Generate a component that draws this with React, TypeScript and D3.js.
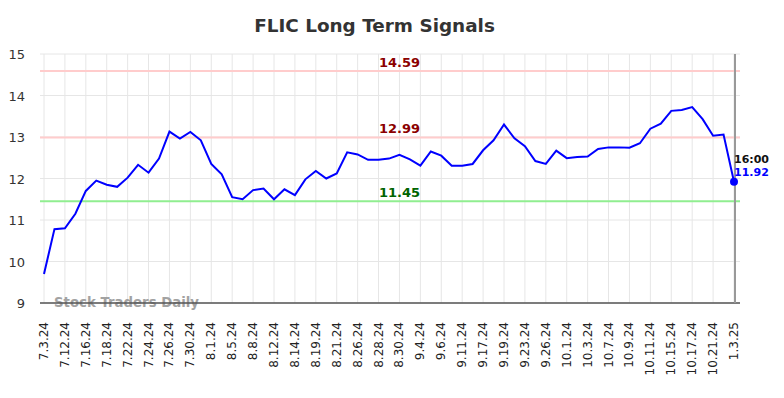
import React from 'react';
import * as d3 from 'd3';

// x-axis tick labels (every second data point)
const tickLabels = [
    '7.3.24', '7.12.24', '7.16.24', '7.18.24', '7.22.24', '7.24.24', '7.26.24', '7.30.24',
    '8.1.24', '8.5.24', '8.8.24', '8.12.24', '8.14.24', '8.19.24', '8.21.24', '8.26.24',
    '8.28.24', '8.30.24', '9.4.24', '9.6.24', '9.11.24', '9.17.24', '9.19.24', '9.23.24',
    '9.26.24', '10.1.24', '10.3.24', '10.7.24', '10.9.24', '10.11.24', '10.15.24', '10.17.24',
    '10.21.24', '1.3.25'
];

// closing prices, one per half tick step
const prices = [
    9.7, 10.78, 10.8, 11.15, 11.7, 11.95, 11.85, 11.8, 12.02, 12.33,
    12.14, 12.48, 13.13, 12.96, 13.12, 12.92, 12.35, 12.1, 11.55, 11.5,
    11.72, 11.76, 11.5, 11.74, 11.6, 11.98, 12.18, 12.0, 12.12, 12.63,
    12.58, 12.45, 12.45, 12.48, 12.57, 12.46, 12.31, 12.65, 12.55, 12.31,
    12.31, 12.35, 12.68, 12.92, 13.3, 12.97, 12.78, 12.42, 12.35, 12.67,
    12.49, 12.52, 12.53, 12.71, 12.75, 12.75, 12.74, 12.85, 13.2, 13.32,
    13.63, 13.65, 13.72, 13.43, 13.03, 13.06, 11.92
];

const yTicks = [9, 10, 11, 12, 13, 14, 15];

const signals = [
    { value: 14.59, line: '#ffcccc', text: '#8b0000' },
    { value: 12.99, line: '#ffcccc', text: '#8b0000' },
    { value: 11.45, line: '#90ee90', text: '#006400' }
];

const lastTime = '16:00';

const W = 784, H = 398;
const left = 40, right = 740, top = 54, bottom = 303;
const font = 'DejaVu Sans, sans-serif';

export default function App() {
    const x = d3.scaleLinear().domain([0, prices.length - 1]).range([44, 734]);
    const y = d3.scaleLinear().domain([9, 15]).range([bottom, top]);
    const line = d3.line<number>().x((d, i) => x(i)).y(d => y(d));
    const lastI = prices.length - 1;
    const last = prices[lastI];

    return (
        <svg width={W} height={H} style={{ position: 'absolute', left: 0, top: 0, fontFamily: font }}>
            <rect width={W} height={H} fill="#fff" />
            <text x={374.5} y={32} textAnchor="middle" fontSize={18.4} fontWeight="bold" fill="#333">
                FLIC Long Term Signals
            </text>

            {/* grid */}
            {yTicks.map(t => (
                <line key={t} x1={left} x2={right} y1={y(t)} y2={y(t)} stroke="#e6e6e6" strokeWidth={1} />
            ))}
            {tickLabels.map((t, i) => (
                <line key={t} x1={x(i * 2)} x2={x(i * 2)} y1={top} y2={bottom} stroke="#e6e6e6" strokeWidth={1} />
            ))}

            {/* y labels */}
            {yTicks.map(t => (
                <text key={t} x={25} y={y(t) + 5} textAnchor="end" fontSize={13} fill="#333">{t}</text>
            ))}

            {/* signal lines */}
            {signals.map(s => (
                <g key={s.value}>
                    <line x1={left} x2={right} y1={y(s.value)} y2={y(s.value)} stroke={s.line} strokeWidth={2} />
                    <text x={399.5} y={y(s.value) - 4} textAnchor="middle" fontSize={13} fontWeight="bold" fill={s.text}>
                        {s.value.toFixed(2)}
                    </text>
                </g>
            ))}

            {/* watermark */}
            <text x={54} y={307} fontSize={13.3} fontWeight="bold" fill="#999" opacity={0.9}>Stock Traders Daily</text>

            {/* axis */}
            <line x1={left} x2={right} y1={bottom} y2={bottom} stroke="#555" strokeWidth={1.5} />
            <line x1={x(lastI) + 1} x2={x(lastI) + 1} y1={top} y2={bottom} stroke="#999" strokeWidth={2} />

            {/* x labels */}
            {tickLabels.map((t, i) => (
                <text key={t} transform={`translate(${x(i * 2) + 4},322) rotate(-90)`} textAnchor="end"
                      fontSize={12} fill="#222">{t}</text>
            ))}

            <path d={line(prices) || ''} fill="none" stroke="#0000ff" strokeWidth={2} />
            <circle cx={x(lastI)} cy={y(last)} r={4} fill="#0000ff" />
            <text x={x(lastI)} y={y(last) - 19} fontSize={11} fontWeight="bold" fill="#111">{lastTime}</text>
            <text x={x(lastI)} y={y(last) - 6} fontSize={11} fontWeight="bold" fill="#0000ff">{last.toFixed(2)}</text>
        </svg>
    );
}
